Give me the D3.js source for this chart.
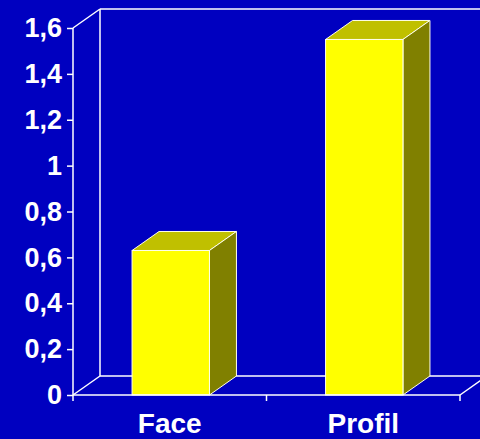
<!DOCTYPE html>
<html>
<head>
<meta charset="utf-8">
<script src="https://cdn.jsdelivr.net/npm/d3@7"></script>
<style>
  html, body { margin: 0; padding: 0; background: #0000c0; }
  svg { display: block; }
  text { font-family: "Liberation Sans", Arial, sans-serif; font-weight: bold; fill: #ffffff; }
</style>
</head>
<body>
<svg id="chart" width="480" height="439"></svg>
<script>
// Data
const categories = ["Face", "Profil"];
const values = [0.63, 1.55];
const yTicks = [0, 0.2, 0.4, 0.6, 0.8, 1, 1.2, 1.4, 1.6];
const yTickLabels = ["0", "0,2", "0,4", "0,6", "0,8", "1", "1,2", "1,4", "1,6"];

const W = 480, H = 439;
const plotL = 73, plotR = 460, plotT = 28, plotB = 395;
const depth = { dx: 27, dy: -19 };

const svg = d3.select("#chart");
svg.append("rect").attr("width", W).attr("height", H).attr("fill", "#0000c0");

const y = d3.scaleLinear().domain([0, 1.6]).range([plotB, plotT]);
const x = d3.scaleBand().domain(categories).range([plotL, plotR]).padding(0);
const barW = x.bandwidth() * 0.4;

const lineColor = "#ffffff";
const g = svg.append("g");

// back wall and floor outline
const frame = [
  [[plotL, plotT], [plotL + depth.dx, plotT + depth.dy]],
  [[plotL + depth.dx, plotT + depth.dy], [W + 10, plotT + depth.dy]],
  [[plotL + depth.dx, plotT + depth.dy], [plotL + depth.dx, plotB + depth.dy]],
  [[plotL + depth.dx, plotB + depth.dy], [plotR + depth.dx, plotB + depth.dy]],
  [[plotL, plotB], [plotL + depth.dx, plotB + depth.dy]],
  [[plotR, plotB], [plotR + depth.dx, plotB + depth.dy]]
];
g.selectAll("line.frame").data(frame).join("line")
  .attr("class", "frame")
  .attr("x1", d => d[0][0]).attr("y1", d => d[0][1])
  .attr("x2", d => d[1][0]).attr("y2", d => d[1][1])
  .attr("stroke", lineColor).attr("stroke-width", 1.5);

// 3D columns
const bars = g.selectAll("g.bar").data(categories.map((c, i) => ({ c, v: values[i] })))
  .join("g").attr("class", "bar");

bars.each(function(d) {
  const b = d3.select(this);
  const x0 = x(d.c) + (x.bandwidth() - barW) / 2 + 1;
  const x1 = x0 + barW;
  const yt = y(d.v), yb = y(0);
  const edge = "#ffffe8";
  // top face
  b.append("polygon")
    .attr("points", [[x0, yt], [x0 + depth.dx, yt + depth.dy], [x1 + depth.dx, yt + depth.dy], [x1, yt]].join(" "))
    .attr("fill", "#c0c000").attr("stroke", edge).attr("stroke-width", 1);
  // side face
  b.append("polygon")
    .attr("points", [[x1, yt], [x1 + depth.dx, yt + depth.dy], [x1 + depth.dx, yb + depth.dy], [x1, yb]].join(" "))
    .attr("fill", "#808000").attr("stroke", edge).attr("stroke-width", 1);
  // front face
  b.append("rect")
    .attr("x", x0).attr("y", yt).attr("width", barW).attr("height", yb - yt)
    .attr("fill", "#ffff00").attr("stroke", edge).attr("stroke-width", 1);
});

// front axes
g.append("line").attr("x1", plotL).attr("y1", plotT).attr("x2", plotL).attr("y2", plotB)
  .attr("stroke", lineColor).attr("stroke-width", 1.5);
g.append("line").attr("x1", plotL).attr("y1", plotB).attr("x2", plotR).attr("y2", plotB)
  .attr("stroke", lineColor).attr("stroke-width", 1.5);

// y axis
const yAxis = d3.axisLeft(y).tickValues(yTicks).tickSize(6).tickPadding(5)
  .tickFormat((d, i) => yTickLabels[i]);
const ya = svg.append("g").attr("transform", `translate(${plotL},0)`).call(yAxis);
ya.select(".domain").remove();
ya.selectAll(".tick line").attr("stroke", lineColor).attr("stroke-width", 1.5);
ya.selectAll(".tick text").attr("font-size", 27).attr("fill", "#ffffff")
  .attr("font-family", "Liberation Sans, Arial, sans-serif").attr("font-weight", "bold");

// x axis
const boundaries = [plotL, plotL + x.step(), plotR];
svg.selectAll("line.xtick").data(boundaries).join("line")
  .attr("class", "xtick")
  .attr("x1", d => d).attr("x2", d => d).attr("y1", plotB).attr("y2", plotB + 6)
  .attr("stroke", lineColor).attr("stroke-width", 1.5);
svg.selectAll("text.xlabel").data(categories).join("text")
  .attr("class", "xlabel")
  .attr("x", d => x(d) + x.bandwidth() / 2)
  .attr("y", 433)
  .attr("text-anchor", "middle")
  .attr("font-size", 28)
  .text(d => d);
</script>
</body>
</html>
